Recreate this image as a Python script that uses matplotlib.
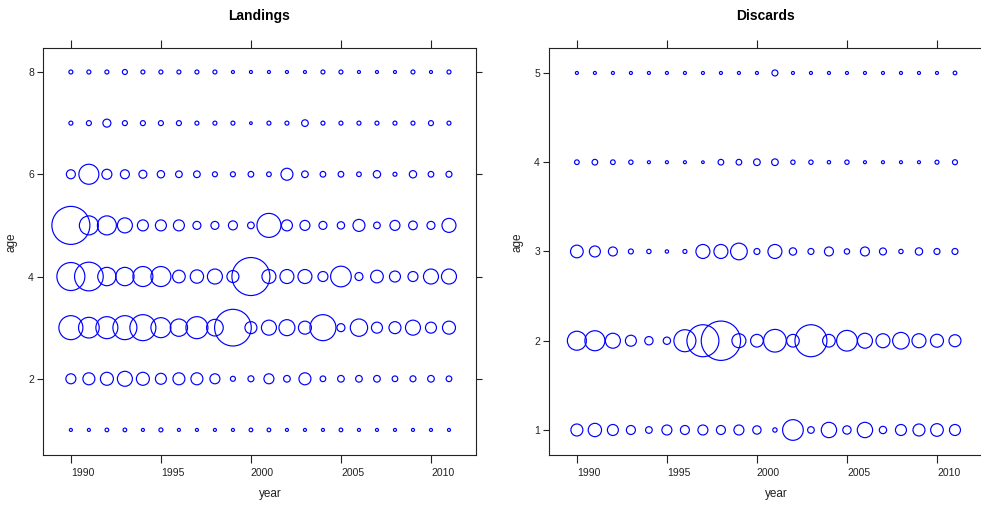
import numpy as np
import matplotlib
matplotlib.use("Agg")
from matplotlib import pyplot as plt

plt.rcParams['font.family'] = ['Liberation Sans', 'DejaVu Sans']

years = np.arange(1990, 2012)

# relative bubble index per age (bubble diameter ~ index)
land_ages = [8, 7, 6, 5, 4, 3, 2, 1]
land_idx = [
    [12, 12, 12, 15, 12, 12, 12, 12, 12, 9, 9, 9, 9, 9, 12, 12, 9, 9, 9, 12, 9, 12],
    [12, 15, 24, 15, 15, 15, 15, 12, 12, 12, 8, 12, 12, 20, 12, 12, 12, 12, 12, 12, 15, 12],
    [27, 60, 30, 27, 24, 22, 20, 20, 15, 15, 17, 14, 36, 20, 17, 17, 14, 22, 12, 22, 17, 18],
    [114, 57, 57, 45, 33, 33, 33, 24, 24, 27, 20, 72, 33, 30, 24, 22, 36, 20, 30, 26, 24, 42],
    [84, 86, 55, 55, 60, 60, 38, 40, 45, 36, 114, 42, 42, 42, 30, 62, 24, 38, 33, 30, 45, 45],
    [72, 62, 66, 72, 78, 60, 52, 66, 50, 110, 36, 45, 48, 39, 78, 24, 52, 33, 36, 45, 33, 39],
    [30, 36, 39, 45, 39, 33, 36, 36, 30, 15, 18, 30, 20, 36, 17, 20, 20, 20, 17, 18, 20, 17],
    [9, 9, 11, 11, 9, 12, 9, 9, 9, 9, 11, 11, 9, 9, 9, 11, 9, 9, 9, 9, 9, 9],
]

disc_ages = [5, 4, 3, 2, 1]
disc_idx = [
    [9, 9, 9, 9, 9, 9, 9, 9, 9, 9, 9, 18, 9, 9, 9, 9, 9, 9, 9, 9, 9, 11],
    [14, 17, 14, 13, 9, 9, 9, 8, 17, 17, 20, 20, 13, 13, 10, 13, 9, 9, 9, 9, 12, 15],
    [38, 33, 27, 15, 13, 10, 12, 42, 42, 50, 18, 42, 22, 18, 27, 16, 27, 21, 13, 22, 18, 18],
    [57, 60, 45, 33, 25, 22, 66, 96, 118, 42, 38, 68, 38, 96, 38, 62, 45, 42, 50, 42, 39, 36],
    [36, 40, 33, 27, 20, 30, 27, 30, 27, 30, 25, 13, 62, 20, 46, 25, 46, 22, 33, 36, 38, 33],
]

fig = plt.figure(figsize=(9.81, 5.07), dpi=100)
ax1 = fig.add_axes([0.0438, 0.1026, 0.4414, 0.8028])
ax2 = fig.add_axes([0.5596, 0.1026, 0.4414, 0.8028])


def bubbles(ax, ages, idx, title, ylim, yticks):
    for age, row in zip(ages, idx):
        d = np.array(row) / 3.0  # pixels
        ax.scatter(years, np.full(len(years), age), s=(d * 0.72) ** 2,
                   facecolors='none', edgecolors='#0000ff', linewidths=0.85,
                   clip_on=False)
    ax.set_xlim(1988.45, 2012.5)
    ax.set_ylim(*ylim)
    ax.set_xticks([1990, 1995, 2000, 2005, 2010])
    ax.set_yticks(yticks)
    ax.tick_params(axis='x', top=True, bottom=True, direction='out', length=6,
                   width=0.8, labelsize=7.5, pad=3.5, colors='#222222')
    ax.tick_params(axis='y', left=True, right=True, direction='out', length=4.5,
                   width=0.8, labelsize=7.5, pad=2, colors='#222222')
    for lab in ax.get_xticklabels():
        lab.set_horizontalalignment('left')
    for sp in ax.spines.values():
        sp.set_linewidth(0.8)
        sp.set_color('#222222')
    ax.set_title(title, fontsize=10, fontweight='bold', pad=20)
    ax.set_xlabel('year', fontsize=8.5, color='#222222')
    ax.set_ylabel('age', fontsize=8.5, color='#222222')
    ax.xaxis.set_label_coords(0.524, -0.082)
    ax.yaxis.set_label_coords(-0.058, 0.523)


bubbles(ax1, land_ages, land_idx, 'Landings', (0.51, 8.47), [2, 4, 6, 8])
bubbles(ax2, disc_ages, disc_idx, 'Discards', (0.72, 5.28), [1, 2, 3, 4, 5])

fig.savefig('out.png', dpi=100)
